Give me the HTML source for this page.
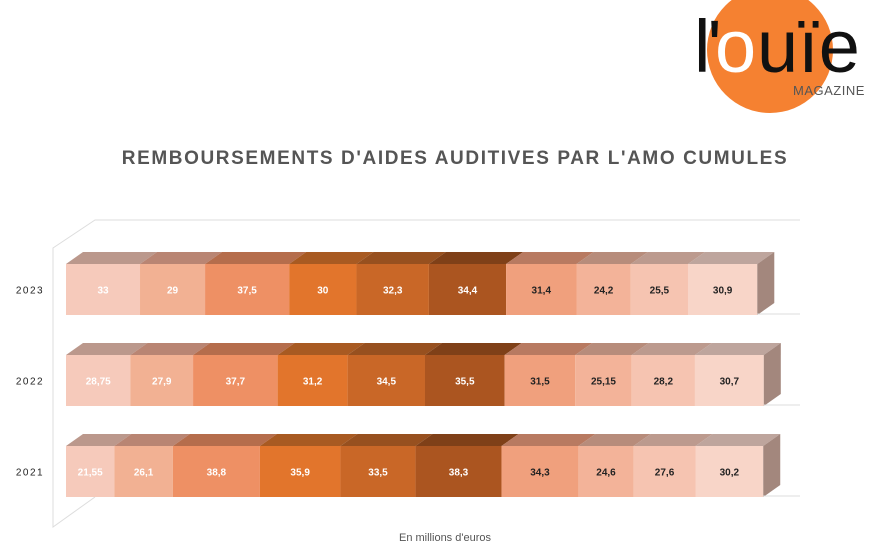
<!DOCTYPE html>
<html><head><meta charset="utf-8">
<style>
body{margin:0;background:#fff;}
svg{display:block;font-family:"Liberation Sans",sans-serif;}
</style></head>
<body>
<svg id="c" width="870" height="558" viewBox="0 0 870 558">
  <g>
    <circle cx="770" cy="50" r="63" fill="#f58131"/>
    <text x="694" y="72" font-size="74" fill="#111" letter-spacing="-3" font-family="Liberation Sans, sans-serif">l'</text>
    <text x="715" y="72" font-size="74" fill="#fff" font-family="Liberation Sans, sans-serif">o</text>
    <text x="757" y="72" font-size="74" fill="#111" font-family="Liberation Sans, sans-serif">uïe</text>
    <text x="793" y="95" font-size="13" fill="#555" letter-spacing="0.5">MAGAZINE</text>
  </g>
  <text x="455" y="164" text-anchor="middle" font-size="19" font-weight="bold" fill="#555" letter-spacing="1.6">REMBOURSEMENTS D'AIDES AUDITIVES PAR L'AMO CUMULES</text>
  <g stroke="#ddd" fill="none" stroke-width="1">
    <polyline points="800,220 95,220 53,248 53,527 95,497"/>
  </g>
  <g id="bars"></g>
  <text x="445" y="541" text-anchor="middle" font-size="11" fill="#555">En millions d'euros</text>
</svg>
<script>
const years = ["2023","2022","2021"];
const s2023 = [33,29,37.5,30,32.3,34.4,31.4,24.2,25.5,30.9];
const s2022 = [28.75,27.9,37.7,31.2,34.5,35.5,31.5,25.15,28.2,30.7];
const s2021 = [21.55,26.1,38.8,35.9,33.5,38.3,34.3,24.6,27.6,30.2];
const labels2023 = ["33","29","37,5","30","32,3","34,4","31,4","24,2","25,5","30,9"];
const labels2022 = ["28,75","27,9","37,7","31,2","34,5","35,5","31,5","25,15","28,2","30,7"];
const labels2021 = ["21,55","26,1","38,8","35,9","33,5","38,3","34,3","24,6","27,6","30,2"];
const series=[s2023,s2022,s2021], labs=[labels2023,labels2022,labels2021];
const front=["#f6cabb","#f2b193","#ee9064","#e2752c","#c96727","#ab5520","#f0a07d","#f3b399","#f6c4b1","#f8d5c8"];
const top_=["#bb988c","#b98573","#b56d4c","#a85a22","#97501f","#7f4018","#b87a61","#b78c7b","#bc9a8e","#bea59d"];
const dark=[0,0,0,0,0,0,1,1,1,1];
const x0=66, scale=2.243, depth=17, dh=12, barH=51;
const rowY=i=>264+i*91;
const g=document.getElementById('bars');
const NS="http://www.w3.org/2000/svg";
function mk(t,a){const e=document.createElementNS(NS,t);for(const k in a)e.setAttribute(k,a[k]);g.appendChild(e);return e;}
series.forEach((vals,r)=>{
  const y=rowY(r); let x=x0;
  const yl=mk('text',{x:30,y:y+barH/2+4,'text-anchor':'middle','font-size':10,fill:'#222','letter-spacing':1.5});
  yl.textContent=years[r];
  
  
  vals.forEach((v,i)=>{
    const w=v*scale;
    const tp=mk('polygon',{points:`${x},${y} ${x+w},${y} ${x+w+depth},${y-dh} ${x+depth},${y-dh}`,fill:top_[i]});
    
    
    const rc=mk('rect',{x:x,y:y,width:w,height:barH,fill:front[i]});
    
    
    const t=mk('text',{x:x+w/2,y:y+barH/2+4,'text-anchor':'middle','font-size':10,'font-weight':'bold',fill:dark[i]?'#222':'#fff'});
    t.textContent=labs[r][i];
    
    
    x+=w;
  });
  const sd=mk('polygon',{points:`${x},${y} ${x+depth},${y-dh} ${x+depth},${y+barH-dh} ${x},${y+barH}`,fill:'#a3877d'});
  
  
  const fl=mk('line',{x1:x,y1:y+barH-1,x2:800,y2:y+barH-1,stroke:'#ddd'});
  
  
});
</script>
</body></html>
